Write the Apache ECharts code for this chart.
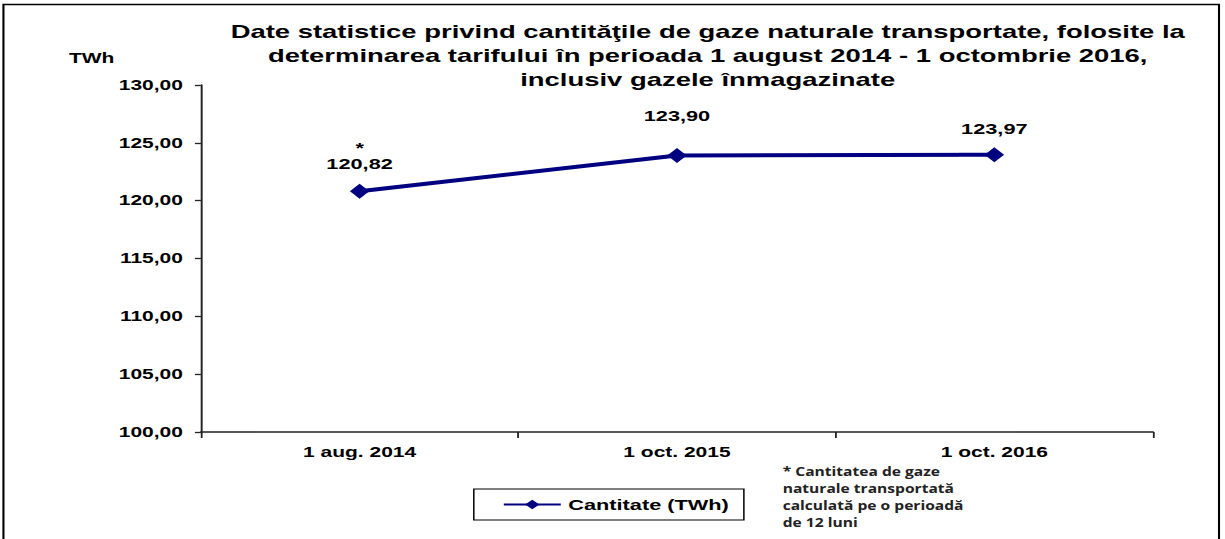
<!DOCTYPE html>
<html lang="ro">
<head>
    <meta charset="UTF-8">
    <title>Cantitate gaze transportate</title>
    <script src="https://cdn.jsdelivr.net/npm/echarts@6/dist/echarts.min.js"></script>
    <style>
        html, body { margin: 0; padding: 0; background: #fff; overflow: hidden; }
        /* the original picture is a horizontally stretched Excel chart,
           so the chart is drawn narrower and stretched back to 1225px */
        #main {
            width: 817px;
            height: 539px;
            transform: scaleX(1.4994);
            transform-origin: 0 0;
        }
    </style>
</head>
<body>
    <div id="main"></div>
    <script>
        // data
        const categories = ['1 aug. 2014', '1 oct. 2015', '1 oct. 2016'];
        const values = [120.82, 123.90, 123.97];
        const labelPrefix = ['*\n', '', ''];   // footnote star on first point
        const labelDistance = [12, 24, 10];
        const yTicks = [100, 105, 110, 115, 120, 125, 130];

        const fmt = v => v.toFixed(2).replace('.', ',');
        const navy = '#000080';
        const font = 'Liberation Sans, Arial, sans-serif';

        const chart = echarts.init(document.getElementById('main'), null, { renderer: 'svg' });

        const option = {
            backgroundColor: '#fff',
            title: {
                text: 'Date statistice privind cantităţile de gaze naturale transportate, folosite la\n' +
                      'determinarea tarifului în perioada 1 august 2014 - 1 octombrie 2016,\n' +
                      'inclusiv gazele înmagazinate',
                left: 467,
                top: 15,
                textAlign: 'center',
                textStyle: {
                    fontFamily: font,
                    fontSize: 18.3,
                    fontWeight: 'bold',
                    color: '#000',
                    lineHeight: 24
                }
            },
            grid: {
                left: 134,
                right: 48,
                top: 85,
                bottom: 107
            },
            legend: {
                data: ['Cantitate (TWh)'],
                left: 316,
                top: 489,
                itemWidth: 38,
                itemHeight: 12,
                itemGap: 0,
                padding: [8, 10, 8, 19],
                borderColor: '#000',
                borderWidth: 1,
                textStyle: {
                    fontFamily: font,
                    fontSize: 14.5,
                    fontWeight: 'bold',
                    color: '#000'
                }
            },
            xAxis: {
                type: 'category',
                data: categories,
                boundaryGap: true,
                axisLine: { lineStyle: { color: '#222', width: 1.5 } },
                axisTick: { show: true, length: 6, lineStyle: { color: '#222', width: 1.2 } },
                axisLabel: {
                    margin: 13,
                    fontFamily: font,
                    fontSize: 14,
                    fontWeight: 'bold',
                    color: '#000'
                },
                splitLine: { show: false }
            },
            yAxis: {
                type: 'value',
                min: yTicks[0],
                max: yTicks[yTicks.length - 1],
                interval: 5,
                axisLine: { show: true, lineStyle: { color: '#222', width: 1.3 } },
                axisTick: { show: true, length: 4, lineStyle: { color: '#222', width: 1.3 } },
                axisLabel: {
                    margin: 12,
                    fontFamily: font,
                    fontSize: 14,
                    fontWeight: 'bold',
                    color: '#000',
                    formatter: v => fmt(v)
                },
                splitLine: { show: false }
            },
            series: [{
                name: 'Cantitate (TWh)',
                type: 'line',
                symbol: 'diamond',
                symbolSize: [13, 15],
                lineStyle: { color: navy, width: 4 },
                itemStyle: { color: navy },
                data: values.map((v, i) => ({
                    value: v,
                    label: {
                        show: true,
                        position: 'top',
                        distance: labelDistance[i],
                        formatter: labelPrefix[i] + fmt(v),
                        fontFamily: font,
                        fontSize: 14.5,
                        fontWeight: 'bold',
                        color: '#000',
                        lineHeight: 16,
                        align: 'center'
                    }
                }))
            }],
            graphic: [
                {
                    // outer frame
                    type: 'rect',
                    shape: { x: 2.3, y: 4.5, width: 810.7, height: 560 },
                    style: { fill: 'none', stroke: '#000', lineWidth: 1.4 },
                    silent: true
                },
                {
                    type: 'text',
                    x: 46,
                    y: 51,
                    style: {
                        text: 'TWh',
                        font: 'bold 14px Liberation Sans, Arial, sans-serif',
                        fill: '#000',
                        align: 'left',
                        verticalAlign: 'top'
                    }
                },
                {
                    // footnote, un-stretched back a bit
                    type: 'text',
                    x: 522,
                    y: 463,
                    scaleX: 0.8,
                    style: {
                        text: '* Cantitatea de gaze\nnaturale transportată\ncalculată pe o perioadă\nde 12 luni',
                        font: 'bold 13px Open Sans, sans-serif',
                        lineHeight: 17,
                        fill: '#222',
                        align: 'left',
                        verticalAlign: 'top'
                    }
                }
            ]
        };

        chart.setOption(option);
    </script>
</body>
</html>
